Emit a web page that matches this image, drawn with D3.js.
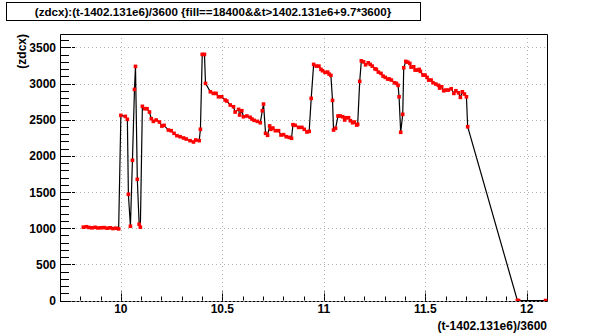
<!DOCTYPE html>
<html>
<head>
<meta charset="utf-8">
<script src="https://cdn.jsdelivr.net/npm/d3@7"></script>
<style>
  body { margin: 0; background: #fff; }
  svg { display: block; }
  text { font-family: "Liberation Sans", Arial, sans-serif; font-weight: bold; }
</style>
</head>
<body>
<svg id="chart" width="608" height="334"></svg>
<script>
// hours since 1402.131e6 s
const hours = [
  9.815, 9.830, 9.843, 9.858, 9.873, 9.887, 9.902, 9.917, 9.932, 9.947, 9.961, 9.976, 9.989,
  10.000, 10.022, 10.032, 10.037, 10.047, 10.057, 10.067, 10.072, 10.081, 10.090, 10.096,
  10.106, 10.118, 10.129, 10.141, 10.150, 10.160, 10.174, 10.190, 10.202, 10.213, 10.234,
  10.248, 10.262, 10.276, 10.292, 10.309, 10.322, 10.341, 10.358, 10.369, 10.386, 10.392,
  10.401, 10.412, 10.417, 10.441, 10.456, 10.469, 10.481, 10.497, 10.514, 10.522, 10.539,
  10.555, 10.563, 10.580, 10.585, 10.596, 10.604, 10.621, 10.637, 10.646, 10.657, 10.673,
  10.687, 10.697, 10.703, 10.713, 10.723, 10.733, 10.739, 10.749, 10.761, 10.777, 10.789,
  10.802, 10.815, 10.830, 10.841, 10.848, 10.859, 10.876, 10.892, 10.904, 10.917, 10.928,
  10.938, 10.950, 10.963, 10.976, 10.986, 10.994, 11.006, 11.019, 11.026, 11.035, 11.043,
  11.048, 11.058, 11.070, 11.081, 11.093, 11.103, 11.109, 11.122, 11.131, 11.142, 11.150,
  11.162, 11.167, 11.177, 11.185, 11.196, 11.206, 11.219, 11.229, 11.239, 11.252, 11.259,
  11.269, 11.282, 11.292, 11.303, 11.315, 11.323, 11.333, 11.348, 11.358, 11.366, 11.371,
  11.379, 11.389, 11.394, 11.404, 11.414, 11.424, 11.430, 11.443, 11.450, 11.460, 11.470,
  11.476, 11.489, 11.499, 11.509, 11.517, 11.529, 11.538, 11.552, 11.565, 11.571, 11.581,
  11.591, 11.601, 11.614, 11.628, 11.641, 11.651, 11.664, 11.673, 11.683, 11.693, 11.703,
  11.709, 11.954, 11.960, 12.093
]
const zdcx = [
  1014, 1020, 1010, 1005, 1012, 1003, 1006, 1008, 1000, 1005, 995, 1000, 990,
  2560, 2546, 2505, 1469, 1027, 1939, 2919, 3237, 1676, 1055, 1014,
  2685, 2652, 2652, 2606, 2514, 2477, 2496, 2468, 2412, 2422, 2357,
  2348, 2311, 2279, 2265, 2247, 2233, 2210, 2192, 2219, 2210, 2367,
  3403, 3403, 3002, 2886, 2864, 2864, 2817, 2817, 2772, 2758, 2703,
  2679, 2606, 2643, 2565, 2624, 2541, 2551, 2533, 2509, 2491, 2477,
  2458, 2624, 2716, 2312, 2284, 2413, 2367, 2385, 2348, 2348, 2288,
  2293, 2265, 2256, 2243, 2431, 2422, 2394, 2394, 2367, 2330, 2339,
  2795, 3265, 3241, 3241, 3196, 3177, 3154, 3158, 3131, 3113, 2767,
  2357, 2381, 2551, 2551, 2541, 2496, 2527, 2527, 2486, 2458, 2468,
  2426, 2436, 3030, 3314, 3300, 3259, 3287, 3265, 3241, 3204, 3196,
  3158, 3140, 3103, 3085, 3062, 3062, 3048, 3011, 3002, 2975, 2817,
  2326, 2574, 3218, 3306, 3296, 3278, 3227, 3232, 3186, 3186, 3196,
  3168, 3117, 3117, 3085, 3048, 3048, 3011, 2993, 2975, 2937, 2955,
  2900, 2910, 2910, 2928, 2864, 2900, 2872, 2809, 2886, 2855, 2817,
  2403, 0, 0, 0
]
const xTicks = [10, 10.5, 11, 11.5, 12]
const yTicks = [0, 500, 1000, 1500, 2000, 2500, 3000, 3500]
const titleText = '(zdcx):(t-1402.131e6)/3600 {fill==18400&&t>1402.131e6+9.7*3600}'
const xTitle = '(t-1402.131e6)/3600'
const yTitle = '(zdcx)'

let frame = { left: 60, right: 547, top: 34, bottom: 300.5 }
let svg = d3.select('#chart')

let xScale = d3.scaleLinear().domain([9.70, 12.10]).range([frame.left, frame.right])
let yScale = d3.scaleLinear().domain([0, 3685]).range([frame.bottom, frame.top])
let px = v => Math.round(v) + 0.5

// grid
svg.append('g').selectAll('line')
  .data(xTicks).enter().append('line')
  .attr('x1', d => px(xScale(d))).attr('x2', d => px(xScale(d)))
  .attr('y1', frame.top).attr('y2', frame.bottom)
  .attr('stroke', '#b4b4b4').attr('stroke-dasharray', '1,3')
svg.append('g').selectAll('line')
  .data(yTicks.filter(d => d > 0)).enter().append('line')
  .attr('y1', d => px(yScale(d))).attr('y2', d => px(yScale(d)))
  .attr('x1', frame.left).attr('x2', frame.right)
  .attr('stroke', '#b4b4b4').attr('stroke-dasharray', '1,3')

// minor ticks
let xMinor = d3.range(98, 121).map(d => d / 10)
let yMinor = d3.range(0, 37).map(d => d * 100)
svg.append('g').selectAll('line')
  .data(xMinor).enter().append('line')
  .attr('x1', d => px(xScale(d))).attr('x2', d => px(xScale(d)))
  .attr('y1', frame.bottom).attr('y2', frame.bottom - 4)
  .attr('stroke', 'black')
svg.append('g').selectAll('line')
  .data(yMinor).enter().append('line')
  .attr('y1', d => px(yScale(d))).attr('y2', d => px(yScale(d)))
  .attr('x1', frame.left).attr('x2', frame.left + 9)
  .attr('stroke', 'black')

// major ticks, dashed
svg.append('g').selectAll('line')
  .data(xTicks).enter().append('line')
  .attr('x1', d => px(xScale(d))).attr('x2', d => px(xScale(d)))
  .attr('y1', frame.bottom).attr('y2', frame.bottom - 9)
  .attr('stroke', 'black').attr('stroke-dasharray', '3,1')
svg.append('g').selectAll('line')
  .data(yTicks).enter().append('line')
  .attr('y1', d => px(yScale(d))).attr('y2', d => px(yScale(d)))
  .attr('x1', frame.left).attr('x2', frame.left + 16)
  .attr('stroke', 'black').attr('stroke-dasharray', '3,1')

// frame: left, top, right solid; bottom axis dashed
let fx0 = frame.left + 0.5, fx1 = frame.right + 0.5, fy0 = frame.top + 0.5, fy1 = px(frame.bottom)
svg.append('path')
  .attr('d', `M${fx0},${fy1}V${fy0}H${fx1}V${fy1}`)
  .attr('fill', 'none').attr('stroke', 'black')
svg.append('line')
  .attr('x1', fx0).attr('x2', fx1).attr('y1', fy1).attr('y2', fy1)
  .attr('stroke', 'black').attr('stroke-dasharray', '3,1')

// tick labels
svg.append('g').selectAll('text')
  .data(xTicks).enter().append('text')
  .attr('x', d => xScale(d)).attr('y', 313)
  .attr('text-anchor', 'middle').attr('font-size', 12)
  .text(d => d3.format('')(d))
svg.append('g').selectAll('text')
  .data(yTicks).enter().append('text')
  .attr('x', 56).attr('y', d => yScale(d) + 4.5)
  .attr('text-anchor', 'end').attr('font-size', 12)
  .text(d => d)

// axis titles
svg.append('text')
  .attr('x', 547).attr('y', 330)
  .attr('text-anchor', 'end').attr('font-size', 12)
  .text(xTitle)
svg.append('text')
  .attr('transform', 'translate(26,34) rotate(-90)')
  .attr('text-anchor', 'end').attr('font-size', 12)
  .text(yTitle)

// data
svg.append('clipPath').attr('id', 'clip')
  .append('rect').attr('x', frame.left).attr('y', frame.top - 2)
  .attr('width', frame.right - frame.left + 1).attr('height', frame.bottom - frame.top + 2.5)

let pts = hours.map((h, i) => [h, zdcx[i]])
let lineGen = d3.line().x(d => xScale(d[0])).y(d => yScale(d[1]))
svg.append('path')
  .datum(pts)
  .attr('d', lineGen)
  .attr('fill', 'none').attr('stroke', 'black').attr('stroke-width', 1.2)
svg.append('g').attr('clip-path', 'url(#clip)').selectAll('rect')
  .data(pts).enter().append('rect')
  .attr('x', d => xScale(d[0]) - 1.8).attr('y', d => yScale(d[1]) - 1.8)
  .attr('width', 3.6).attr('height', 3.6)
  .attr('fill', '#ff0000')

// title box
svg.append('rect')
  .attr('x', 6.5).attr('y', 2.5).attr('width', 414).attr('height', 18)
  .attr('fill', 'white').attr('stroke', 'black')
svg.append('text')
  .attr('x', 213).attr('y', 16)
  .attr('text-anchor', 'middle').attr('font-size', 11.6)
  .text(titleText)
</script>
</body>
</html>
